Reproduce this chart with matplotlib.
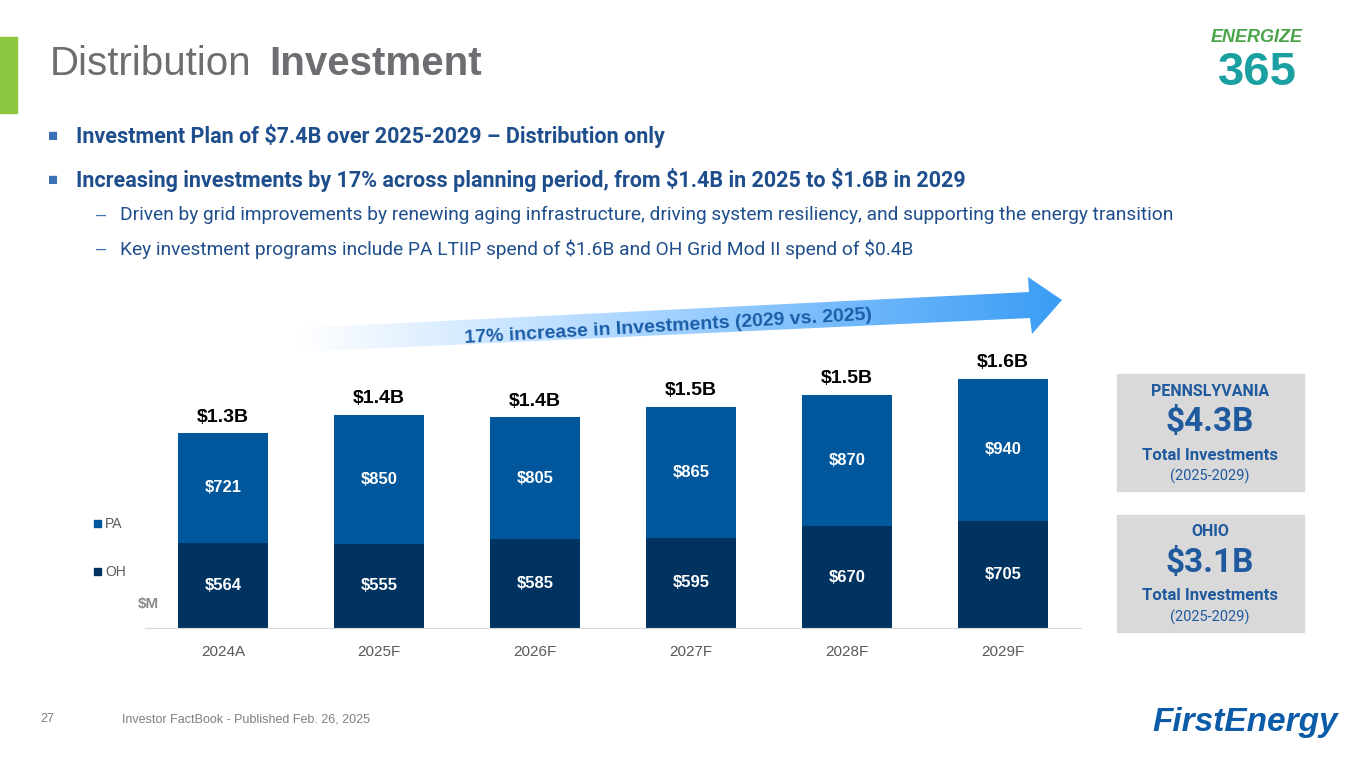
import numpy as np
import matplotlib.pyplot as plt
from matplotlib.patches import Polygon, Rectangle
from matplotlib.colors import LinearSegmentedColormap

years = ['2024A', '2025F', '2026F', '2027F', '2028F', '2029F']
oh = [564, 555, 585, 595, 670, 705]
pa = [721, 850, 805, 865, 870, 940]
totals = ['$1.3B', '$1.4B', '$1.4B', '$1.5B', '$1.5B', '$1.6B']

PA_COL = '#00579c'
OH_COL = '#00335f'

plt.rcParams['font.family'] = ['Liberation Sans', 'DejaVu Sans']
plt.rcParams['text.parse_math'] = False
fig = plt.figure(figsize=(13.65, 7.68), dpi=100)

# background layer in pixel coords
bg = fig.add_axes([0, 0, 1, 1])
bg.set_xlim(0, 1365)
bg.set_ylim(768, 0)
bg.axis('off')
bg.add_patch(Rectangle((0, 37), 17, 76, color='#8dc63f'))
bg.text(50, 64, 'Distribution', fontsize=29, color='#6d6e71', va='center')
bg.text(269, 64, 'Investment', fontsize=29, color='#6d6e71', va='center', fontweight='bold')

cond = dict(family=['Roboto', 'DejaVu Sans'])
bg.text(48, 136, '■', fontsize=12, color='#3b6fb6', va='center')
bg.text(76, 136, 'Investment Plan of $7.4B over 2025-2029 – Distribution only', fontsize=15.5,
        fontweight='bold', color='#1f4e8c', va='center', **cond)
bg.text(48, 180, '■', fontsize=12, color='#3b6fb6', va='center')
bg.text(76, 180, 'Increasing investments by 17% across planning period, from $1.4B in 2025 to $1.6B in 2029',
        fontsize=15.5, fontweight='bold', color='#1f4e8c', va='center', **cond)
bg.text(96, 215, '–', fontsize=13, color='#3b6fb6', va='center')
bg.text(120, 215, 'Driven by grid improvements by renewing aging infrastructure, driving system resiliency, and supporting the energy transition',
        fontsize=13.8, color='#1f4e8c', va='center', **cond)
bg.text(96, 249, '–', fontsize=13, color='#3b6fb6', va='center')
bg.text(120, 249, 'Key investment programs include PA LTIIP spend of $1.6B and OH Grid Mod II spend of $0.4B',
        fontsize=13.8, color='#1f4e8c', va='center', **cond)

# gradient arrow
arrow = Polygon([(300, 352), (1030, 318), (1032, 334), (1062, 300), (1028, 277),
                 (1029, 292), (300, 328)], closed=True, facecolor='none', edgecolor='none')
bg.add_patch(arrow)
grad = np.linspace(0, 1, 256).reshape(1, -1)
cmap = LinearSegmentedColormap.from_list('g', ['#ffffff', '#9fd0ff', '#3a9cf5'])
im = bg.imshow(grad, extent=(300, 1062, 352, 277), cmap=cmap, aspect='auto', zorder=1)
im.set_clip_path(arrow)
bg.set_xlim(0, 1365)
bg.set_ylim(768, 0)
bg.text(668, 327, '17% increase in Investments (2029 vs. 2025)', fontsize=14, fontweight='bold',
        color='#1b5ea8', rotation=3.3, ha='center', va='center', zorder=2)

# side boxes
for y0, state, amt in [(374, 'PENNSLYVANIA', '$4.3B'), (515, 'OHIO', '$3.1B')]:
    bg.add_patch(Rectangle((1117, y0), 187, 117, color='#d9d9d9'))
    bg.text(1210, y0 + 17, state, fontsize=11.5, fontweight='bold', color='#1f5a9e', ha='center', va='center', **cond)
    bg.text(1210, y0 + 48, amt, fontsize=24, fontweight='bold', color='#1f5a9e', ha='center', va='center', **cond)
    bg.text(1210, y0 + 81, 'Total Investments', fontsize=12, fontweight='bold', color='#1f5a9e', ha='center', va='center', **cond)
    bg.text(1210, y0 + 102, '(2025-2029)', fontsize=10.5, color='#1f5a9e', ha='center', va='center', **cond)

# logos / footer
bg.text(1257, 37, 'ENERGIZE', fontsize=13, fontweight='bold', fontstyle='italic', color='#4aa54a', ha='center', va='center')
bg.text(1257, 73, '365', fontsize=34, fontweight='bold', color='#1aa0a0', ha='center', va='center')
bg.text(1245, 722, 'FirstEnergy', fontsize=24, fontweight='bold', fontstyle='italic', color='#0b5ca8', ha='center', va='center')
bg.text(40, 719, '27', fontsize=9, color='#7f7f7f', va='center')
bg.text(122, 719, 'Investor FactBook - Published Feb. 26, 2025', fontsize=9, color='#7f7f7f', va='center')

# legend
bg.add_patch(Rectangle((94, 520), 7, 7, color=PA_COL))
bg.text(105, 524, 'PA', fontsize=10, color='#595959', va='center')
bg.add_patch(Rectangle((94, 568), 7, 7, color=OH_COL))
bg.text(105, 572, 'OH', fontsize=10, color='#595959', va='center')
bg.text(138, 604, '$M', fontsize=11, fontweight='bold', color='#8c8c8c', va='center')

# bar chart
ax = fig.add_axes([145 / 1365, 140 / 768, 936 / 1365, 288 / 768])
x = np.arange(len(years))
ax.bar(x, oh, width=0.58, color=OH_COL)
ax.bar(x, pa, width=0.58, bottom=oh, color=PA_COL)
for i in range(len(years)):
    ax.text(x[i], oh[i] / 2, f'${oh[i]}', ha='center', va='center', color='white', fontsize=12, fontweight='bold')
    ax.text(x[i], oh[i] + pa[i] / 2, f'${pa[i]}', ha='center', va='center', color='white', fontsize=12, fontweight='bold')
    ax.text(x[i], oh[i] + pa[i] + 50, totals[i], ha='center', va='bottom', color='black', fontsize=14, fontweight='bold')
ax.set_xlim(-0.5, 5.5)
ax.set_ylim(0, 1900)
ax.set_xticks(x)
ax.set_xticklabels(years, fontsize=11, color='#595959')
ax.tick_params(axis='x', length=0, pad=12)
ax.set_yticks([])
for s in ['top', 'right', 'left']:
    ax.spines[s].set_visible(False)
ax.spines['bottom'].set_color('#d9d9d9')
ax.patch.set_alpha(0)

fig.savefig('out.png', dpi=100)
